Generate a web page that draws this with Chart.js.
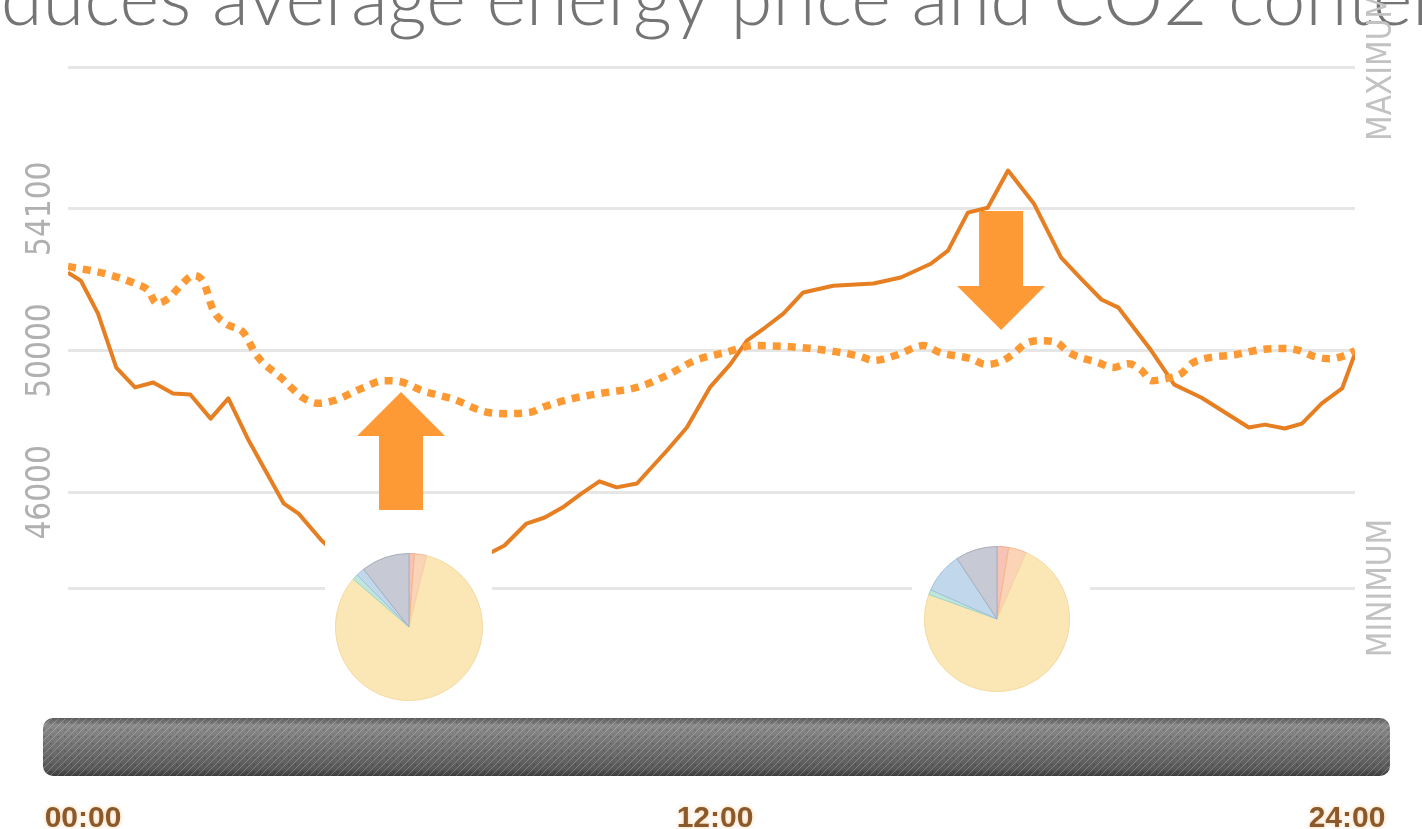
<!DOCTYPE html>
<html>
<head>
<meta charset="utf-8">
<script src="https://cdn.jsdelivr.net/npm/chart.js@4.4.1/dist/chart.umd.min.js"></script>
<style>
html,body{margin:0;padding:0;background:#fff;overflow:hidden;}
#wrap{position:relative;width:1422px;height:829px;overflow:hidden;background:#fff;}
#main{position:absolute;left:0;top:0;}
.pie{position:absolute;background:#fff;}
</style>
</head>
<body>
<div id="wrap">
<canvas id="main" width="1422" height="829"></canvas>
<canvas id="pieA" class="pie" width="167" height="165" style="left:325px;top:540px"></canvas>
<canvas id="pieB" class="pie" width="178" height="170" style="left:912px;top:535px"></canvas>
</div>
<script>
// ---------- DATA ----------
const titleText = 'produces average energy price and CO2 content';

// solid line (hours of the day, values)
const demandHours = [0, 0.24, 0.56, 0.9, 1.25, 1.59, 1.96, 2.28, 2.66, 2.99, 3.37, 4.02, 4.3, 4.73, 5.14, 5.61, 6.17, 6.73, 7.3, 7.86, 8.14, 8.55, 8.89, 9.22, 9.58, 9.91, 10.23, 10.61, 11.17, 11.54, 11.97, 12.35, 12.66, 13.0, 13.34, 13.71, 14.27, 15.02, 15.53, 16.09, 16.41, 16.78, 17.15, 17.53, 18.01, 18.52, 18.89, 19.27, 19.59, 20.2, 20.63, 21.14, 22.02, 22.32, 22.69, 23.01, 23.38, 23.76, 24];
const demandValues = [52200, 51970, 51040, 49520, 48960, 49100, 48790, 48760, 48080, 48650, 47460, 45690, 45400, 44640, 44080, 43650, 43370, 43430, 43740, 44280, 44500, 45120, 45290, 45570, 45970, 46310, 46140, 46250, 47180, 47830, 48960, 49610, 50280, 50650, 51040, 51640, 51830, 51890, 52060, 52450, 52820, 53890, 54030, 55080, 54150, 52620, 52030, 51440, 51210, 50000, 49040, 48670, 47830, 47910, 47800, 47940, 48510, 48930, 49920];

// dotted line
const priceHours = [0, 0.69, 1.25, 1.5, 1.65, 1.87, 2.1, 2.34, 2.53, 2.71, 2.94, 3.27, 3.52, 3.97, 4.4, 4.68, 4.96, 5.52, 5.89, 6.17, 6.6, 7.2, 7.76, 8.14, 8.6, 8.89, 9.48, 10.05, 10.61, 11.17, 11.69, 12.25, 12.81, 13.71, 14.31, 14.78, 15.02, 15.43, 15.96, 16.27, 16.84, 17.12, 17.4, 17.64, 17.86, 18.14, 18.43, 18.67, 19.21, 19.49, 19.77, 20.02, 20.2, 20.48, 20.76, 20.95, 21.19, 21.79, 22.26, 22.67, 22.97, 23.25, 23.53, 23.81, 24];
const priceValues = [52370, 52170, 51890, 51690, 51330, 51470, 51830, 52120, 51920, 51130, 50760, 50510, 49860, 49240, 48650, 48510, 48590, 48960, 49150, 49130, 48870, 48620, 48280, 48220, 48250, 48420, 48670, 48820, 48960, 49300, 49720, 49940, 50140, 50080, 49970, 49830, 49720, 49860, 50140, 49940, 49770, 49610, 49690, 49920, 50200, 50280, 50230, 49940, 49660, 49520, 49630, 49440, 49150, 49210, 49350, 49630, 49770, 49890, 50030, 50060, 50000, 49830, 49770, 49860, 50000];

// y axis
const yTickValues = [58000, 54000, 50000, 46000, 43300];
const yTickLabels = ['', '54100', '50000', '46000', ''];
const sideLabels = ['MAXIMUM', '', '', '', 'MINIMUM'];

// time axis
const timeTicks = [0, 12, 24];
const timeLabels = ['00:00', '12:00', '24:00'];

// arrows (hour, tail value, tip value)
const arrowHours = [6.21, 17.40];
const arrowTail = [45500, 53940];
const arrowTip = [48830, 50580];

// energy mix pies
const mixSources = ['Source A', 'Source B', 'Source C', 'Source D', 'Source E', 'Source F'];
const mixNight = [1.2, 2.7, 82.4, 1.2, 1.9, 10.6];
const mixEvening = [2.6, 4.0, 73.9, 1.1, 9.1, 9.3];
const mixColors = ['#f8c3b4', '#fbd3b6', '#fbe7b6', '#bfe6dc', '#c1d7eb', '#c7cad5'];
const mixBorders = ['#eeaa96', '#f3b98e', '#f4d9a0', '#9fd6c8', '#a3bfdb', '#a9adbb'];

// ---------- DRAWING ----------
function hatchPattern(ctx) {
  const c = document.createElement('canvas');
  c.width = 7; c.height = 7;
  const p = c.getContext('2d');
  p.strokeStyle = 'rgba(255,255,255,0.22)';
  p.lineWidth = 1;
  p.beginPath();
  p.moveTo(-1, 8); p.lineTo(8, -1);
  p.stroke();
  p.fillStyle = 'rgba(0,0,0,0.18)';
  p.fillRect(1, 1, 1.5, 1.5);
  return ctx.createPattern(c, 'repeat');
}

const decorPlugin = {
  id: 'decor',
  afterDatasetsDraw(chart) {
    const {ctx, scales: {x, y}} = chart;
    ctx.save();
    ctx.fillStyle = '#fe9a35';
    arrowHours.forEach((h, i) => {
      const cx = x.getPixelForValue(h);
      const yTail = y.getPixelForValue(arrowTail[i]);
      const yTip = y.getPixelForValue(arrowTip[i]);
      const dir = yTip < yTail ? -1 : 1;
      const headLen = 44, headHalf = 44, shaftHalf = 22;
      const yBase = yTip - dir * headLen;
      ctx.beginPath();
      ctx.moveTo(cx - shaftHalf, yTail);
      ctx.lineTo(cx - shaftHalf, yBase);
      ctx.lineTo(cx - headHalf, yBase);
      ctx.lineTo(cx, yTip);
      ctx.lineTo(cx + headHalf, yBase);
      ctx.lineTo(cx + shaftHalf, yBase);
      ctx.lineTo(cx + shaftHalf, yTail);
      ctx.closePath();
      ctx.fill();
    });
    ctx.restore();
  },
  afterDraw(chart) {
    const {ctx, scales: {y, xt}} = chart;
    ctx.save();
    // title (clipped at the top)
    ctx.font = '300 76px Lato, "Open Sans", sans-serif';
    ctx.fillStyle = '#747474';
    ctx.textBaseline = 'alphabetic';
    ctx.textAlign = 'left';
    const pre = ctx.measureText('produces ').width;
    ctx.fillText(titleText, 212 - pre, 25);

    // rotated y labels
    yTickValues.forEach((v, i) => {
      const py = y.getPixelForValue(v);
      if (yTickLabels[i]) {
        ctx.save();
        ctx.translate(41, py);
        ctx.rotate(-Math.PI / 2);
        ctx.font = '33px "Liberation Sans Narrow", "DejaVu Sans Condensed", sans-serif';
        ctx.fillStyle = '#b0b0b0';
        ctx.textAlign = 'center';
        ctx.textBaseline = 'middle';
        ctx.fillText(yTickLabels[i], 0, 0);
        ctx.restore();
      }
      if (sideLabels[i]) {
        ctx.save();
        ctx.translate(1382, py);
        ctx.rotate(-Math.PI / 2);
        ctx.font = '33px "Liberation Sans Narrow", "DejaVu Sans Condensed", sans-serif';
        ctx.fillStyle = '#c2c2c2';
        ctx.textAlign = 'center';
        ctx.textBaseline = 'middle';
        ctx.fillText(sideLabels[i], 0, 0);
        ctx.restore();
      }
    });

    // hatched bar
    const bx = 43, by = 718, bw = 1347, bh = 58, br = 10;
    ctx.beginPath();
    ctx.roundRect(bx, by, bw, bh, br);
    const g = ctx.createLinearGradient(0, by, 0, by + bh);
    g.addColorStop(0, '#5a5a5a');
    g.addColorStop(0.12, '#8a8a8a');
    g.addColorStop(0.5, '#717171');
    g.addColorStop(0.88, '#585858');
    g.addColorStop(1, '#3c3c3c');
    ctx.fillStyle = g;
    ctx.fill();
    ctx.fillStyle = hatchPattern(ctx);
    ctx.fill();

    // time labels
    ctx.font = 'bold 30px "Liberation Sans", Arial, sans-serif';
    ctx.fillStyle = '#8b5a2c';
    ctx.textAlign = 'center';
    ctx.textBaseline = 'alphabetic';
    ctx.shadowColor = 'rgba(255,170,80,0.55)';
    ctx.shadowBlur = 4;
    timeTicks.forEach((t, i) => {
      ctx.fillText(timeLabels[i], xt.getPixelForValue(t), 827);
    });
    ctx.restore();
  }
};

new Chart(document.getElementById('main'), {
  type: 'line',
  data: {
    datasets: [
      {
        label: 'price',
        data: priceHours.map((h, i) => ({x: h, y: priceValues[i]})),
        borderColor: '#fd9933',
        borderWidth: 7.5,
        borderDash: [8, 7],
        borderCapStyle: 'butt',
        pointRadius: 0,
        cubicInterpolationMode: 'monotone',
        fill: false
      },
      {
        label: 'demand',
        data: demandHours.map((h, i) => ({x: h, y: demandValues[i]})),
        borderColor: '#e67e22',
        borderWidth: 4,
        borderJoinStyle: 'round',
        pointRadius: 0,
        tension: 0,
        fill: false
      }
    ]
  },
  options: {
    responsive: false,
    animation: false,
    events: [],
    layout: {padding: {left: 68, right: 67, top: 67, bottom: 124}},
    plugins: {legend: {display: false}, tooltip: {enabled: false}, title: {display: false}},
    scales: {
      x: {type: 'linear', min: 0, max: 24, display: false},
      xt: {type: 'linear', axis: 'x', position: 'bottom', min: -0.285, max: 24.151, display: false},
      y: {
        type: 'linear', min: 40000, max: 58000,
        afterBuildTicks: (scale) => { scale.ticks = yTickValues.map(v => ({value: v})); },
        ticks: {display: false},
        grid: {color: '#e6e6e6', lineWidth: 3, drawTicks: false},
        border: {display: false}
      }
    }
  },
  plugins: [decorPlugin]
});

function makePie(id, values, pad) {
  new Chart(document.getElementById(id), {
    type: 'pie',
    data: {
      labels: mixSources,
      datasets: [{data: values, backgroundColor: mixColors, borderColor: mixBorders, borderWidth: 1}]
    },
    options: {
      responsive: false,
      animation: false,
      events: [],
      layout: {padding: pad},
      plugins: {legend: {display: false}, tooltip: {enabled: false}}
    }
  });
}
makePie('pieA', mixNight, {left: 10, right: 9, top: 13, bottom: 4});
makePie('pieB', mixEvening, {left: 12, right: 20, top: 11, bottom: 13});
</script>
</body>
</html>
